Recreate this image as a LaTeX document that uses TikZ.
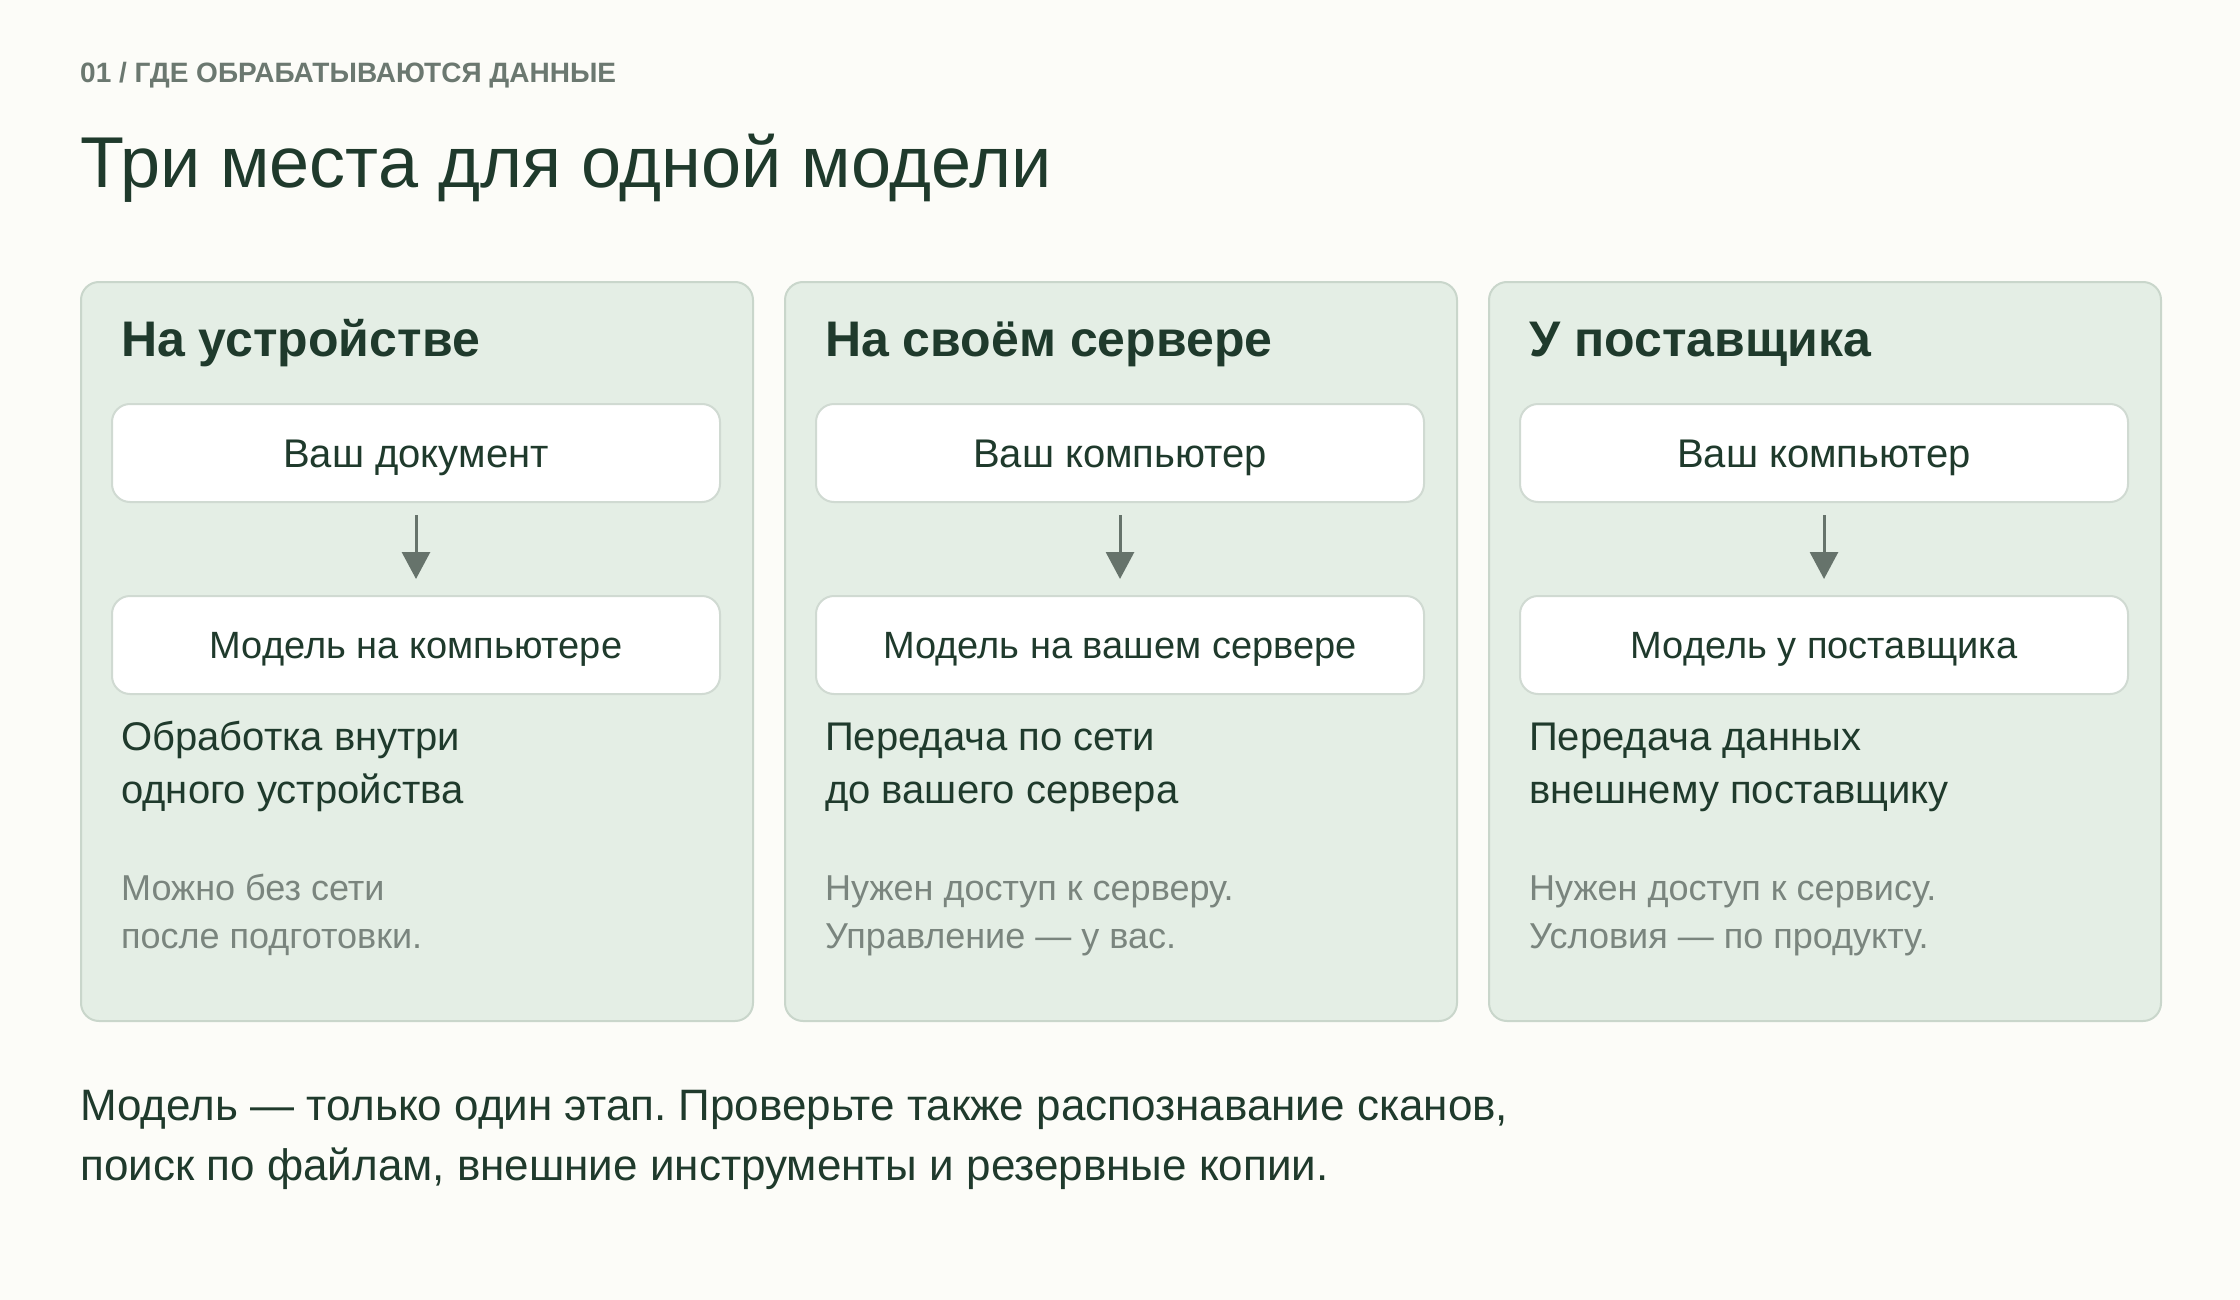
\documentclass[tikz,border=0pt]{standalone}
\usepackage{fontspec}
\setmainfont{Liberation Sans}
\usetikzlibrary{arrows.meta}
\frenchspacing

\definecolor{page bg}{HTML}{FCFCF8}
\definecolor{panel area}{HTML}{E4EEE5}
\definecolor{panel edge}{HTML}{C9D6CB}
\definecolor{box edge}{HTML}{D0DAD2}
\definecolor{ink}{HTML}{1F3A2C}
\definecolor{soft ink}{HTML}{6B7870}
\definecolor{note ink}{HTML}{7A857E}
\definecolor{arrow grey}{HTML}{66736B}

\tikzset{
  panelbox/.style={draw=panel edge, fill=panel area, line width=2pt, rounded corners=18pt,
    minimum width=672pt, minimum height=739pt, anchor=north west, inner sep=0pt},
  stepbox/.style={draw=box edge, fill=white, line width=2pt, rounded corners=18pt,
    minimum width=608pt, minimum height=98pt, inner sep=0pt, text=ink,
    font=\fontsize{40}{48}\selectfont, text height=28.6pt, text depth=0pt},
  modelbox/.style={stepbox, font=\fontsize{38}{46}\selectfont, text height=27.2pt},
  flow/.style={draw=arrow grey, line width=3pt, -{Triangle[length=27pt,width=28pt]},
    shorten <=12pt, shorten >=16pt},
  plain/.style={anchor=base west, inner sep=0pt, align=left}
}

\begin{document}
\begin{tikzpicture}[x=1pt, y=-1pt]
\fill[page bg] (0,0) rectangle (2240,1300);

\node[plain, text=soft ink, font=\fontsize{28}{32}\selectfont\bfseries] (kicker) at (80,83) {01 / ГДЕ ОБРАБАТЫВАЮТСЯ ДАННЫЕ};
\node[plain, text=ink, font=\fontsize{72}{82}\selectfont] (title) at (80,188) {Три места для одной модели};

% last line baselines: a multi-line node sits on its last line
\foreach \i/\x/\head/\upper/\lower/\desc/\note in {
  1/0/{На устройстве}/{Ваш документ}/{Модель на компьютере}/{Обработка внутри\\одного устройства}/{Можно без сети\\после подготовки.},
  2/704/{На своём сервере}/{Ваш компьютер}/{Модель на вашем сервере}/{Передача по сети\\до вашего сервера}/{Нужен доступ к серверу.\\Управление — у вас.},
  3/1408/{У поставщика}/{Ваш компьютер}/{Модель у поставщика}/{Передача данных\\внешнему поставщику}/{Нужен доступ к сервису.\\Условия — по продукту.}}
{
\begin{scope}[xshift=\x]
  \node[panelbox] (panel\i) at (80,281) {};
  \node[plain, text=ink, font=\fontsize{50}{58}\selectfont\bfseries] (head\i) at (121,356) {\head};
  \node[stepbox] (upper\i) at (416,453) {\upper};
  \node[modelbox] (lower\i) at (416,645) {\lower};
  \draw[flow] (upper\i) -- (lower\i);
  \node[plain, text=ink, font=\fontsize{40}{53}\selectfont] (desc\i) at (121,803) {\desc};
  \node[plain, text=note ink, font=\fontsize{36}{48}\selectfont] (note\i) at (121,948) {\note};
\end{scope}
}

\node[plain, text=ink, font=\fontsize{44}{60}\selectfont] (closing) at (80,1180)
  {Модель — только один этап. Проверьте также распознавание сканов,\\поиск по файлам, внешние инструменты и резервные копии.};
\end{tikzpicture}
\end{document}
